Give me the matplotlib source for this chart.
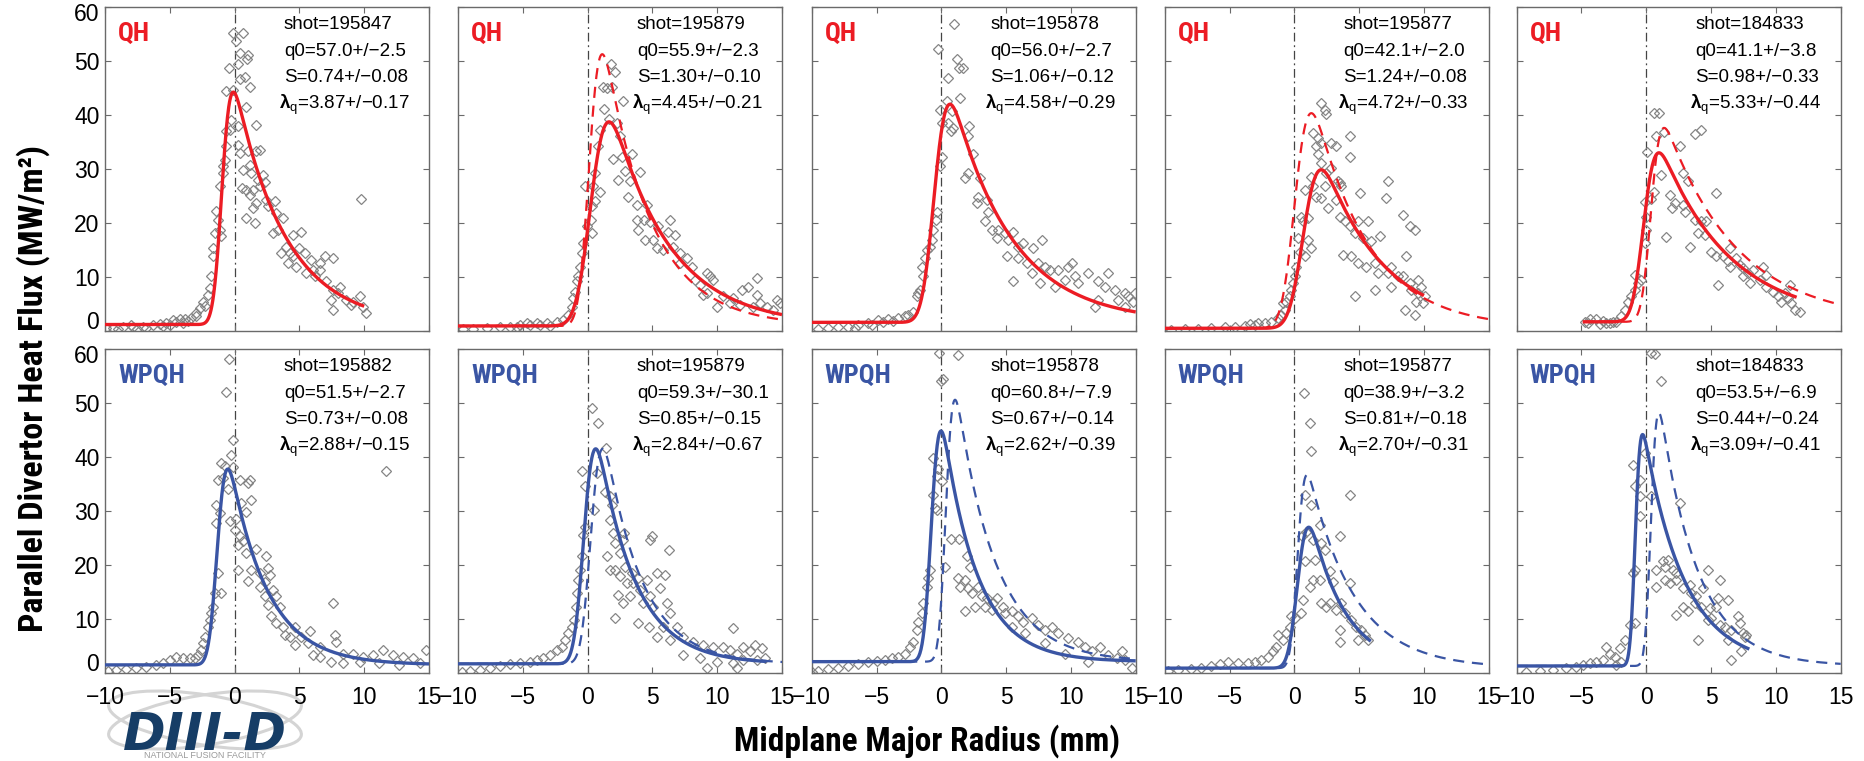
import math
import numpy as np
import matplotlib
matplotlib.use("Agg")
import matplotlib.pyplot as plt
from matplotlib import font_manager
from matplotlib.patches import Ellipse

# ---------------------------------------------------------------- fonts
_names = {f.name for f in font_manager.fontManager.ttflist}


def pick(*cands):
    for c in cands:
        if c in _names:
            return c
    return "DejaVu Sans"


SANS = pick("Liberation Sans", "Arial", "DejaVu Sans")
NARROW = pick("Liberation Sans Narrow", "Roboto Condensed", "DejaVu Sans Condensed", SANS)

plt.rcParams["font.family"] = [SANS, "DejaVu Sans"]
plt.rcParams["mathtext.fontset"] = "custom"
plt.rcParams["mathtext.rm"] = SANS
plt.rcParams["mathtext.bf"] = SANS + ":bold"
plt.rcParams["mathtext.it"] = SANS + ":italic"

# ---------------------------------------------------------------- data
shots = ["195847", "195879", "195878", "195877", "184833",
         "195882", "195879", "195878", "195877", "184833"]
regime = ["QH"] * 5 + ["WPQH"] * 5

# Eich fit results (value, uncertainty)
q0_fit = [(57.0, 2.5), (55.9, 2.3), (56.0, 2.7), (42.1, 2.0), (41.1, 3.8),
          (51.5, 2.7), (59.3, 30.1), (60.8, 7.9), (38.9, 3.2), (53.5, 6.9)]
S_fit = [(0.74, 0.08), (1.30, 0.10), (1.06, 0.12), (1.24, 0.08), (0.98, 0.33),
         (0.73, 0.08), (0.85, 0.15), (0.67, 0.14), (0.81, 0.18), (0.44, 0.24)]
lam_fit = [(3.87, 0.17), (4.45, 0.21), (4.58, 0.29), (4.72, 0.33), (5.33, 0.44),
           (2.88, 0.15), (2.84, 0.67), (2.62, 0.39), (2.70, 0.31), (3.09, 0.41)]
s0_fit = [-0.96, 0.32, -0.50, 0.76, -0.18, -1.31, -0.24, -0.74, 0.29, -0.84]
bg_fit = [1.2, 0.93, 1.6, 0.5, 1.7, 1.5, 1.7, 2.1, 0.9, 1.3]
fit_span = [(-10, 10), (-10, 15), (-10, 15), (-10, 10), (-4.9, 11.6),
            (-10, 15), (-10, 13.8), (-10, 15), (-10, 5.9), (-10, 7.95)]

# comparison profiles (q0, S, lambda_q, s0), drawn dashed
alt_fit = [None, (71.2, 0.90, 3.6, 0.16), None, (57.8, 1.15, 4.2, 0.11), (45.0, 0.80, 5.5, 0.37),
           None, (59.3, 0.85, 2.84, 0.30), (64.9, 0.60, 3.0, 0.37), (46.3, 0.60, 3.5, 0.26),
           (60.7, 0.50, 2.9, 0.37)]
alt_span = [None, (-10, 15), None, (-10, 15), (-4.9, 15),
            None, (-10, 15), (-10, 15), (-10, 15), (-10, 15)]

# measured heat-flux points (radius mm, MW/m^2)
t1_pts = [(-0.13, 55.2), (0.64, 55.2), (0.13, 53.7), (0.44, 51.5), (1.03, 51.2), (-0.44, 48.7), (0.26, 49.4),
          (0.95, 50.3), (0.77, 47.1), (0.39, 46.7), (1.16, 45.2), (-0.69, 44.4), (-0.13, 44.7), (-0.39, 37.3),
          (-0.64, 37.0), (0.26, 37.9), (0.85, 41.5), (1.67, 38.2), (0.26, 34.5), (0.39, 33.0), (1.03, 33.3),
          (1.67, 33.3), (1.93, 33.5), (-0.77, 31.7), (-0.90, 30.5), (0.64, 29.9), (1.16, 30.8), (1.29, 29.3),
          (2.19, 28.9), (0.59, 26.5), (0.90, 26.2), (1.16, 25.2), (1.41, 26.2), (1.80, 28.0), (1.93, 26.8),
          (2.31, 27.5), (0.90, 20.9), (1.59, 20.0), (1.41, 22.8), (1.67, 23.7), (2.44, 24.3), (2.57, 23.1),
          (3.08, 24.0), (3.21, 21.8), (3.73, 20.9), (2.96, 18.1), (3.34, 18.7), (3.98, 15.6), (4.24, 14.4),
          (4.50, 13.8), (5.00, 15.3), (5.14, 18.4), (4.50, 17.8), (5.40, 14.4), (5.91, 13.2), (6.56, 12.6),
          (6.94, 13.8), (7.58, 13.5), (5.53, 10.7), (6.17, 10.1), (7.07, 9.2), (7.58, 7.6), (8.10, 8.2),
          (7.46, 5.8), (7.58, 3.9), (8.61, 5.8), (9.00, 4.8), (9.64, 6.4), (9.90, 4.5), (10.15, 3.3),
          (9.77, 24.4), (-1.41, 22.3), (-1.16, 18.7), (-1.03, 17.5), (-1.54, 18.1), (-1.67, 13.8),
          (-1.80, 10.1), (-1.93, 7.9), (-2.06, 6.7), (-2.44, 5.4), (-2.70, 4.2), (-2.96, 3.3), (-3.34, 2.4),
          (-3.86, 2.2), (-4.24, 2.2), (-4.76, 2.0), (-5.27, 1.5), (-5.78, 1.3), (-6.30, 1.1), (-7.07, 0.8),
          (-7.84, 0.8), (-8.61, 0.7), (-9.38, 0.5), (-9.90, 0.5), (-1.16, 26.8), (-0.90, 29.3), (-0.64, 34.2),
          (-0.31, 39.1), (-1.67, 15.3), (-1.29, 20.6), (3.60, 14.4), (4.11, 12.6), (4.76, 11.9), (6.04, 11.3),
          (6.56, 11.3), (7.97, 7.0), (9.13, 5.4), (-8.0, 1.2), (-6.8, 0.6), (-5.5, 0.9), (-4.5, 1.6),
          (-3.6, 1.9), (-3.0, 2.8), (-2.3, 4.6), (-4.0, 1.4), (-5.0, 1.1), (-9.0, 0.3), (-7.5, 0.4)]

t2_pts = [(1.78, 49.4), (2.11, 47.9), (1.16, 45.2), (1.86, 45.2), (1.47, 45.0), (2.71, 42.5), (1.27, 41.2),
          (1.68, 39.3), (0.96, 37.3), (2.24, 38.5), (0.83, 34.2), (2.50, 36.1), (1.98, 31.8), (2.63, 32.3),
          (3.40, 32.8), (0.57, 29.3), (2.89, 29.6), (4.05, 29.4), (2.37, 27.9), (3.27, 27.7), (0.44, 26.8),
          (-0.20, 26.8), (0.96, 25.7), (0.57, 24.0), (3.14, 24.8), (3.79, 23.4), (4.56, 23.4), (3.79, 20.6),
          (4.36, 20.5), (4.82, 20.1), (5.46, 19.4), (6.36, 20.6), (6.23, 18.4), (6.75, 17.8), (3.92, 18.7),
          (4.43, 16.9), (5.07, 16.9), (5.33, 15.3), (5.84, 15.0), (6.61, 15.6), (7.12, 14.4), (7.64, 13.5),
          (8.03, 11.9), (7.12, 12.6), (8.29, 9.5), (8.67, 8.5), (9.18, 10.7), (9.44, 10.1), (9.70, 9.5),
          (8.93, 6.7), (9.18, 7.0), (9.96, 4.5), (10.47, 6.4), (11.24, 6.1), (11.88, 7.6), (12.40, 8.2),
          (13.04, 9.8), (13.04, 6.7), (13.30, 5.1), (14.58, 5.8), (14.32, 3.9), (14.84, 5.1), (13.81, 4.5),
          (12.78, 4.5), (10.98, 5.1), (11.76, 4.8), (0.31, 23.1), (0.24, 20.6), (-0.07, 19.4), (0.31, 18.1),
          (-0.33, 16.3), (-0.46, 14.4), (-0.59, 11.9), (-0.72, 10.1), (-0.84, 9.2), (-0.97, 7.3), (-1.10, 6.1),
          (-1.23, 4.5), (-1.48, 3.0), (-1.87, 2.0), (-2.38, 1.7), (-3.16, 1.5), (-3.93, 1.5), (-4.70, 1.4),
          (-5.21, 1.1), (-5.98, 0.8), (-6.75, 0.7), (-7.78, 0.5), (-8.81, 0.4), (-9.58, 0.3), (-2.89, 0.9),
          (-3.67, 1.1), (-4.44, 1.1), (-5.47, 0.7)]

t3_pts = [(1.00, 56.8), (-0.28, 52.3), (1.18, 50.4), (1.36, 48.7), (1.70, 48.7), (0.49, 46.9), (1.44, 43.2),
          (0.41, 42.5), (-0.10, 41.0), (0.80, 40.7), (0.03, 38.5), (0.54, 38.5), (0.93, 37.6), (0.75, 37.0),
          (2.13, 38.0), (2.08, 36.1), (2.47, 32.7), (0.03, 32.3), (-0.10, 30.5), (2.08, 29.3), (1.82, 28.3),
          (2.98, 28.3), (2.85, 24.9), (2.72, 23.7), (3.50, 24.3), (3.62, 22.1), (3.37, 20.3), (3.88, 18.7),
          (4.40, 18.7), (4.27, 17.2), (4.91, 18.1), (5.17, 16.9), (5.55, 18.4), (5.94, 15.6), (6.32, 16.3),
          (7.10, 15.3), (7.79, 16.8), (5.04, 13.8), (5.94, 13.5), (6.58, 12.6), (7.48, 12.6), (7.99, 11.9),
          (8.38, 11.3), (9.02, 11.3), (9.79, 11.9), (10.05, 12.6), (9.54, 9.5), (10.31, 10.1), (11.34, 10.7),
          (12.88, 10.7), (5.55, 9.2), (6.97, 10.7), (7.61, 8.8), (8.77, 8.2), (10.57, 8.8), (12.11, 9.2),
          (12.62, 8.2), (13.39, 7.6), (14.16, 7.0), (14.94, 7.0), (11.85, 4.5), (12.11, 5.8), (13.65, 5.8),
          (14.16, 4.5), (14.81, 5.4), (14.42, 6.4), (-0.36, 22.1), (-0.44, 20.6), (-0.62, 18.7), (-0.75, 16.9),
          (-0.87, 15.6), (-1.13, 15.0), (-1.26, 13.5), (-1.52, 11.9), (-1.39, 10.1), (-1.65, 7.6), (-1.77, 7.0),
          (-1.90, 6.4), (-2.16, 3.6), (-2.55, 3.0), (-2.80, 2.7), (-3.32, 2.4), (-4.09, 2.2), (-4.86, 2.0),
          (-5.63, 1.5), (-6.40, 1.1), (-7.17, 0.8), (-7.94, 0.7), (-8.71, 0.5), (-9.49, 0.3), (-4.47, 1.7),
          (-3.70, 1.9), (-5.37, 1.1), (-6.66, 0.5)]

t4_pts = [(2.08, 42.2), (2.34, 41.0), (2.47, 40.1), (1.44, 36.7), (1.83, 35.7), (2.08, 34.8), (1.70, 34.2),
          (2.85, 34.8), (3.24, 34.2), (4.27, 36.1), (4.27, 32.3), (1.83, 32.7), (2.08, 31.1), (2.47, 29.3),
          (3.37, 27.7), (3.62, 26.8), (7.22, 27.7), (5.04, 25.5), (7.10, 24.6), (0.80, 26.2), (1.44, 26.8),
          (1.70, 24.9), (2.08, 24.6), (2.60, 22.8), (3.24, 24.3), (0.54, 21.2), (1.05, 20.9), (3.50, 21.2),
          (3.88, 20.3), (4.27, 19.4), (4.91, 20.3), (5.68, 20.3), (8.38, 21.5), (8.89, 19.4), (9.28, 18.7),
          (4.65, 18.1), (5.30, 17.2), (5.94, 16.6), (6.58, 17.5), (3.75, 14.1), (4.40, 13.8), (4.91, 12.6),
          (5.55, 11.9), (6.20, 12.6), (6.45, 10.7), (7.22, 10.7), (7.48, 11.9), (7.99, 10.1), (8.64, 13.8),
          (8.38, 10.1), (8.89, 8.8), (9.54, 9.5), (9.79, 8.2), (9.02, 7.6), (9.54, 7.0), (10.05, 6.4),
          (9.92, 5.1), (9.41, 5.4), (8.51, 3.9), (9.28, 3.0), (6.20, 7.6), (4.65, 6.4), (7.48, 8.2),
          (1.05, 16.9), (1.31, 15.3), (0.80, 13.8), (0.28, 17.2), (0.41, 14.7), (0.67, 20.3), (1.31, 28.6),
          (2.34, 26.8), (2.85, 30.2), (3.50, 27.4), (0.15, 11.9), (0.03, 10.1), (-0.10, 8.8), (-0.23, 7.6),
          (-0.36, 6.4), (-0.62, 5.4), (-0.87, 5.1), (-0.75, 3.9), (-1.00, 3.0), (-1.26, 2.4), (-1.77, 1.7),
          (-2.29, 1.4), (-3.06, 1.1), (-3.83, 0.9), (-4.60, 0.8), (-5.37, 0.7), (-6.40, 0.5), (-7.43, 0.4),
          (-8.46, 0.3), (-9.49, 0.2), (-3.44, 1.3), (-2.80, 1.5)]

t5_pts = [(0.57, 40.4), (0.98, 40.4), (0.77, 36.2), (1.34, 36.8), (3.75, 36.5), (4.24, 37.3), (0.05, 33.1),
          (2.57, 34.2), (2.83, 29.3), (1.16, 28.9), (3.21, 27.7), (5.40, 25.5), (0.57, 25.7), (0.39, 24.4),
          (-0.13, 23.8), (1.80, 25.2), (2.19, 23.7), (2.01, 22.8), (2.83, 23.4), (2.96, 22.1), (3.73, 20.6),
          (4.24, 20.3), (4.63, 20.3), (3.98, 18.1), (4.50, 17.8), (3.34, 15.6), (1.54, 17.4), (0.00, 18.7),
          (5.01, 14.7), (5.40, 13.8), (5.91, 13.8), (6.43, 15.3), (6.30, 12.9), (6.94, 13.5), (7.20, 12.2),
          (7.46, 11.6), (7.84, 10.7), (8.23, 11.3), (9.00, 11.9), (9.25, 10.4), (8.74, 9.5), (7.97, 8.8),
          (5.53, 8.5), (9.25, 8.2), (9.77, 7.3), (10.15, 6.4), (11.05, 8.5), (10.67, 7.0), (10.41, 5.4),
          (11.18, 5.1), (11.44, 3.9), (11.83, 3.6), (10.93, 6.1), (7.46, 10.1), (6.43, 11.9), (-0.39, 9.5),
          (-0.64, 8.8), (-0.90, 10.4), (-0.90, 7.6), (-1.16, 6.4), (-1.41, 5.4), (-1.67, 3.9), (-1.93, 2.7),
          (-2.31, 1.7), (-2.83, 1.4), (-3.34, 1.9), (-3.86, 2.2), (-4.37, 2.3), (-4.76, 1.7), (-4.50, 1.4),
          (-3.60, 1.3), (-3.08, 1.5), (-2.57, 1.7), (0.00, 21.2), (-0.13, 16.3)]

b1_pts = [(-0.44, 58.1), (-0.64, 52.1), (-0.13, 43.1), (-0.31, 40.4), (-1.03, 38.9), (-0.77, 38.4),
          (-0.13, 38.2), (-1.29, 35.8), (-0.90, 36.1), (-0.51, 34.1), (0.39, 35.8), (1.03, 35.2), (1.21, 35.8),
          (1.29, 32.0), (0.90, 29.9), (0.51, 31.5), (-1.47, 31.2), (-1.41, 27.8), (-1.16, 29.6), (-0.39, 28.1),
          (0.13, 28.5), (0.00, 26.5), (0.39, 25.3), (0.26, 23.7), (0.64, 24.4), (0.90, 22.2), (1.67, 22.9),
          (2.44, 21.6), (1.29, 19.1), (0.26, 19.0), (1.03, 17.1), (1.93, 18.5), (2.57, 19.4), (2.70, 18.2),
          (2.31, 16.9), (1.93, 16.0), (2.96, 15.4), (3.21, 14.2), (2.31, 14.2), (2.57, 12.6), (3.47, 12.3),
          (2.83, 10.5), (3.21, 9.2), (3.73, 8.6), (3.86, 7.1), (4.24, 6.7), (4.63, 8.6), (5.14, 6.7),
          (5.78, 7.7), (4.63, 5.2), (5.66, 5.5), (6.04, 3.3), (6.56, 4.9), (7.58, 12.9), (7.71, 7.1),
          (7.84, 5.8), (7.46, 2.1), (8.35, 3.6), (9.13, 3.6), (9.90, 3.0), (10.67, 3.3), (11.44, 4.3),
          (11.70, 37.4), (12.21, 3.3), (12.98, 3.0), (13.75, 2.7), (14.78, 4.3), (14.27, 1.8), (12.72, 1.5),
          (11.18, 1.8), (9.64, 2.1), (8.35, 1.8), (6.56, 3.0), (-1.67, 12.3), (-1.80, 11.1), (-1.93, 9.8),
          (-2.06, 8.6), (-2.31, 6.7), (-2.44, 5.5), (-2.57, 4.3), (-2.83, 3.3), (-3.08, 2.7), (-3.47, 2.7),
          (-3.98, 2.7), (-4.50, 3.0), (-5.01, 2.4), (-5.53, 1.8), (-6.04, 1.5), (-6.81, 1.2), (-7.58, 0.9),
          (-8.35, 0.7), (-9.13, 0.6), (-9.77, 0.4), (-1.54, 14.8), (-1.29, 18.5), (-1.08, 14.8)]

b2_pts = [(0.31, 49.1), (0.83, 46.3), (1.40, 41.7), (-0.46, 37.4), (0.70, 37.0), (-0.20, 34.6), (1.34, 33.6),
          (1.73, 32.7), (1.86, 31.2), (0.49, 30.2), (1.73, 28.4), (2.83, 26.0), (4.95, 25.3), (4.82, 24.7),
          (6.30, 22.7), (1.99, 25.9), (2.11, 24.1), (2.71, 24.7), (2.50, 22.2), (1.47, 21.6), (1.73, 19.1),
          (2.11, 19.1), (2.50, 17.9), (2.89, 19.7), (3.40, 18.5), (3.01, 16.6), (3.53, 16.6), (3.91, 17.6),
          (4.55, 17.3), (5.33, 18.5), (5.98, 18.2), (5.59, 15.7), (4.04, 15.4), (2.37, 14.5), (2.76, 12.9),
          (3.27, 14.2), (4.30, 12.9), (4.82, 14.2), (5.07, 12.3), (6.10, 12.9), (6.36, 11.1), (2.11, 10.1),
          (3.88, 9.2), (4.70, 8.6), (5.85, 8.6), (6.87, 8.5), (5.33, 6.7), (6.36, 6.1), (7.38, 6.7),
          (8.16, 5.8), (8.94, 5.2), (9.70, 4.9), (10.47, 4.9), (11.23, 8.3), (10.98, 4.3), (11.50, 3.6),
          (12.02, 4.9), (12.53, 4.0), (12.92, 5.2), (13.43, 4.6), (13.69, 2.7), (13.04, 2.4), (12.02, 2.4),
          (11.23, 1.8), (9.96, 2.1), (8.68, 2.7), (7.38, 3.3), (11.50, 0.9), (9.18, 0.9), (-0.33, 25.6),
          (-0.20, 27.1), (-0.46, 21.6), (-0.59, 19.1), (-0.72, 17.3), (-0.84, 14.8), (-0.89, 12.3),
          (-1.05, 9.8), (-1.23, 8.6), (-1.48, 7.4), (-1.74, 6.1), (-2.00, 4.9), (-2.39, 4.3), (-2.90, 3.3),
          (-3.41, 2.7), (-3.93, 2.4), (-4.44, 2.1), (-5.21, 1.9), (-5.98, 1.7), (-6.75, 1.3), (-7.53, 0.9),
          (-8.30, 0.6), (-9.06, 0.4), (-9.71, 0.2)]

b3_pts = [(-0.18, 59.3), (1.31, 58.8), (-0.03, 54.0), (0.15, 54.4), (-0.62, 39.8), (-0.23, 37.7),
          (-0.36, 36.4), (0.03, 35.5), (-0.62, 33.0), (-0.36, 30.2), (0.72, 24.8), (1.36, 24.8), (0.28, 19.7),
          (1.95, 21.6), (1.31, 17.6), (1.83, 17.3), (2.21, 19.7), (1.44, 16.0), (2.08, 15.7), (2.34, 14.8),
          (2.85, 16.0), (3.11, 14.2), (3.50, 13.9), (4.01, 12.9), (4.27, 13.9), (3.37, 12.3), (3.88, 11.7),
          (4.78, 12.3), (4.91, 11.1), (5.42, 11.4), (5.94, 10.5), (6.32, 9.5), (6.97, 10.1), (7.48, 8.9),
          (1.83, 11.4), (2.60, 12.3), (7.99, 8.0), (8.51, 8.6), (9.02, 7.4), (9.79, 6.4), (10.57, 5.8),
          (11.08, 4.9), (11.59, 4.0), (12.24, 4.9), (12.88, 3.3), (13.52, 2.7), (14.16, 2.4), (14.68, 0.9),
          (11.34, 2.1), (9.54, 3.6), (7.99, 5.5), (6.45, 7.4), (5.42, 8.6), (13.91, 4.0), (-0.49, 30.6),
          (-0.87, 19.1), (-1.00, 17.6), (-1.13, 16.0), (-1.39, 12.9), (-1.52, 11.1), (-1.77, 9.5), (-1.90, 8.0),
          (-2.16, 5.8), (-2.42, 4.9), (-2.80, 3.6), (-3.32, 3.0), (-3.83, 2.7), (-4.34, 2.5), (-4.99, 2.3),
          (-5.63, 2.1), (-6.40, 1.7), (-7.17, 1.3), (-7.94, 1.0), (-8.71, 0.7), (-9.49, 0.4), (-9.95, 0.2)]

b4_pts = [(0.75, 51.9), (1.18, 46.3), (1.26, 41.2), (4.27, 33.0), (0.80, 33.0), (1.31, 31.2), (3.50, 25.3),
          (1.95, 27.5), (0.93, 26.2), (0.59, 25.3), (1.44, 24.7), (2.08, 24.1), (2.34, 22.8), (1.57, 21.0),
          (0.80, 20.7), (1.18, 16.0), (1.95, 17.3), (2.72, 18.8), (2.98, 16.9), (4.27, 16.6), (2.08, 12.9),
          (2.47, 12.3), (2.76, 12.9), (3.24, 11.7), (3.62, 12.9), (3.88, 11.1), (4.40, 9.8), (4.78, 8.6),
          (5.17, 8.0), (5.42, 7.1), (5.68, 6.1), (4.91, 6.1), (3.50, 8.0), (3.50, 5.8), (0.54, 11.1),
          (0.03, 10.1), (0.67, 13.5), (1.44, 17.3), (-0.23, 10.5), (-0.36, 8.6), (-0.62, 7.4), (-0.87, 6.1),
          (-1.26, 7.1), (-1.39, 4.9), (-1.65, 4.0), (-2.03, 3.0), (-2.54, 2.4), (-3.06, 2.1), (-3.57, 1.9),
          (-4.34, 1.9), (-5.12, 2.1), (-5.76, 1.7), (-6.40, 1.3), (-7.17, 1.0), (-7.94, 0.7), (-8.97, 0.6),
          (-9.74, 0.4)]

b5_pts = [(0.39, 59.2), (0.64, 59.0), (1.16, 54.0), (-0.13, 40.8), (-1.03, 38.6), (-0.51, 35.8), (-0.51, 32.7),
          (0.39, 32.7), (-0.90, 34.6), (2.62, 31.5), (-0.51, 29.0), (-0.90, 19.1), (-1.03, 18.5), (0.77, 16.0),
          (0.77, 19.1), (1.41, 19.7), (1.67, 21.0), (1.29, 20.7), (2.06, 19.1), (2.31, 18.5), (2.31, 17.3),
          (1.41, 17.3), (1.80, 16.6), (2.83, 15.7), (3.34, 16.3), (3.47, 14.8), (3.86, 14.2), (4.76, 19.1),
          (5.66, 17.3), (4.37, 15.7), (3.73, 12.9), (4.24, 12.3), (4.88, 12.0), (5.40, 12.3), (5.53, 13.9),
          (6.30, 13.5), (2.83, 12.3), (3.21, 11.4), (2.31, 10.8), (4.76, 9.8), (5.01, 10.1), (5.66, 8.9),
          (6.04, 8.6), (6.56, 8.0), (7.07, 10.5), (7.20, 9.2), (7.46, 7.4), (7.58, 6.7), (7.71, 7.1),
          (7.33, 4.0), (6.56, 2.4), (3.98, 6.1), (6.30, 6.1), (-0.90, 9.2), (-1.29, 8.9), (-1.67, 6.1),
          (-2.06, 4.6), (-3.08, 4.9), (-2.83, 3.6), (-2.44, 3.0), (-3.34, 2.4), (-3.86, 2.1), (-4.37, 1.8),
          (-4.88, 1.5), (-5.40, 1.2), (-6.17, 0.9), (-7.20, 0.6), (-8.23, 0.4), (-9.25, 0.2), (-1.93, 2.1),
          (-2.31, 1.5)]

points = [t1_pts, t2_pts, t3_pts, t4_pts, t5_pts, b1_pts, b2_pts, b3_pts, b4_pts, b5_pts]

x_ticks = [-10, -5, 0, 5, 10, 15]
y_ticks = [0, 10, 20, 30, 40, 50, 60]


# ---------------------------------------------------------------- model
def eich(s, q0, S, lam, s0, bg):
    """Eich profile: exponential decay convolved with a Gaussian spread S."""
    u = np.asarray(s) - s0
    a = S / (2.0 * lam)
    erfc = np.vectorize(math.erfc)
    return 0.5 * q0 * np.exp(a * a - u / lam) * erfc(a - u / S) + bg


# ---------------------------------------------------------------- style
RED = "#ec1c24"
BLUE = "#3a55a4"
GREY_PT = "#858585"
FRAME = "#6a6a6a"

W, H = 1865, 761
fig = plt.figure(figsize=(W / 100, H / 100), dpi=100)

col_left = [105, 458, 811.7, 1164.7, 1516.7]
row_top = [7, 349]
ax_w, ax_h = 324, 324

for i in range(10):
    r, c = divmod(i, 5)
    ax = fig.add_axes([col_left[c] / W, 1 - (row_top[r] + ax_h) / H, ax_w / W, ax_h / H])
    col = RED if r == 0 else BLUE

    ax.set_xlim(-10, 15)
    ax.set_ylim(0, 60)
    ax.axvline(0, color="#444444", lw=0.9, ls=(0, (7, 3, 1.5, 3)), zorder=1)

    px, py = np.array(points[i]).T
    ax.plot(px, py, ls="none", marker="D", ms=5.0, mfc="none", mec=GREY_PT, mew=0.9, zorder=2)

    if alt_fit[i] is not None:
        q0d, Sd, ld, s0d = alt_fit[i]
        xs = np.linspace(alt_span[i][0], alt_span[i][1], 600)
        ax.plot(xs, eich(xs, q0d, Sd, ld, s0d, bg_fit[i]), color=col, lw=1.6,
                ls=(0, (5, 3.5)), zorder=3)

    xs = np.linspace(fit_span[i][0], fit_span[i][1], 600)
    ax.plot(xs, eich(xs, q0_fit[i][0], S_fit[i][0], lam_fit[i][0], s0_fit[i], bg_fit[i]),
            color=col, lw=2.4, zorder=4, solid_capstyle="butt")

    # regime tag and fit summary
    ax.text(0.04, 0.918, regime[i], transform=ax.transAxes, color=col, fontsize=19,
            fontweight="bold", family=[NARROW, SANS], ha="left", va="center")
    tx = 0.552
    ax.text(tx, 0.947, f"shot={shots[i]}", transform=ax.transAxes, fontsize=13.5, va="center")
    ax.text(tx, 0.864, f"q0={q0_fit[i][0]:.1f}+/\u2212{q0_fit[i][1]:.1f}",
            transform=ax.transAxes, fontsize=13.5, va="center")
    ax.text(tx, 0.781, f"S={S_fit[i][0]:.2f}+/\u2212{S_fit[i][1]:.2f}",
            transform=ax.transAxes, fontsize=13.5, va="center")
    ax.text(tx - 0.016, 0.698,
            r"$\mathbf{\lambda}_{\mathrm{q}}$" + f"={lam_fit[i][0]:.2f}+/\u2212{lam_fit[i][1]:.2f}",
            transform=ax.transAxes, fontsize=13.5, va="center")

    # axes frame and ticks
    for sp in ax.spines.values():
        sp.set_color(FRAME)
        sp.set_linewidth(1.0)
    ax.set_xticks(x_ticks)
    ax.set_yticks(y_ticks)
    ax.tick_params(direction="in", length=4.5, width=0.8, color=FRAME, top=True, right=True,
                   labelsize=16.5)
    ax.tick_params(axis="x", pad=9)
    ax.tick_params(axis="y", pad=4)
    if r == 1:
        ax.set_xticklabels([f"{t:d}".replace("-", "\u2212") for t in x_ticks])
    else:
        ax.set_xticklabels([])
    if c == 0:
        ax.set_yticklabels([""] + [str(t) for t in y_ticks[1:-1]] + [""])
        ytr = ax.get_yaxis_transform()
        ax.text(-0.0185, 1.5, "0", transform=ytr, ha="right", va="center", fontsize=16.5)
        ax.text(-0.0185, 58.7, "60", transform=ytr, ha="right", va="center", fontsize=16.5)
    else:
        ax.set_yticklabels([])

# axis titles
fig.text(33 / W, 1 - 389 / H, "Parallel Divertor Heat Flux (MW/m\u00b2)", rotation=90,
         ha="center", va="center", fontsize=24.5, fontweight="bold", family=[NARROW, SANS])
fig.text(927 / W, 1 - 741 / H, "Midplane Major Radius (mm)", ha="center", va="center",
         fontsize=24, fontweight="bold", family=[NARROW, SANS])

# DIII-D mark
for ang in (9, -9):
    fig.add_artist(Ellipse((2.05, 0.41), 1.95, 0.50, angle=ang, transform=fig.dpi_scale_trans,
                           fill=False, ec="#d4d4d4", lw=2.2, zorder=-1))
fig.text(205 / W, 1 - 736 / H, "DIII-D", ha="center", va="center", fontsize=37,
         fontweight="heavy", style="italic", color="#163d66", family="DejaVu Sans")
fig.text(205 / W, 1 - 756 / H, "NATIONAL FUSION FACILITY", ha="center", va="center",
         fontsize=6.5, color="#9a9a9a")

fig.savefig("out.png", dpi=100)
